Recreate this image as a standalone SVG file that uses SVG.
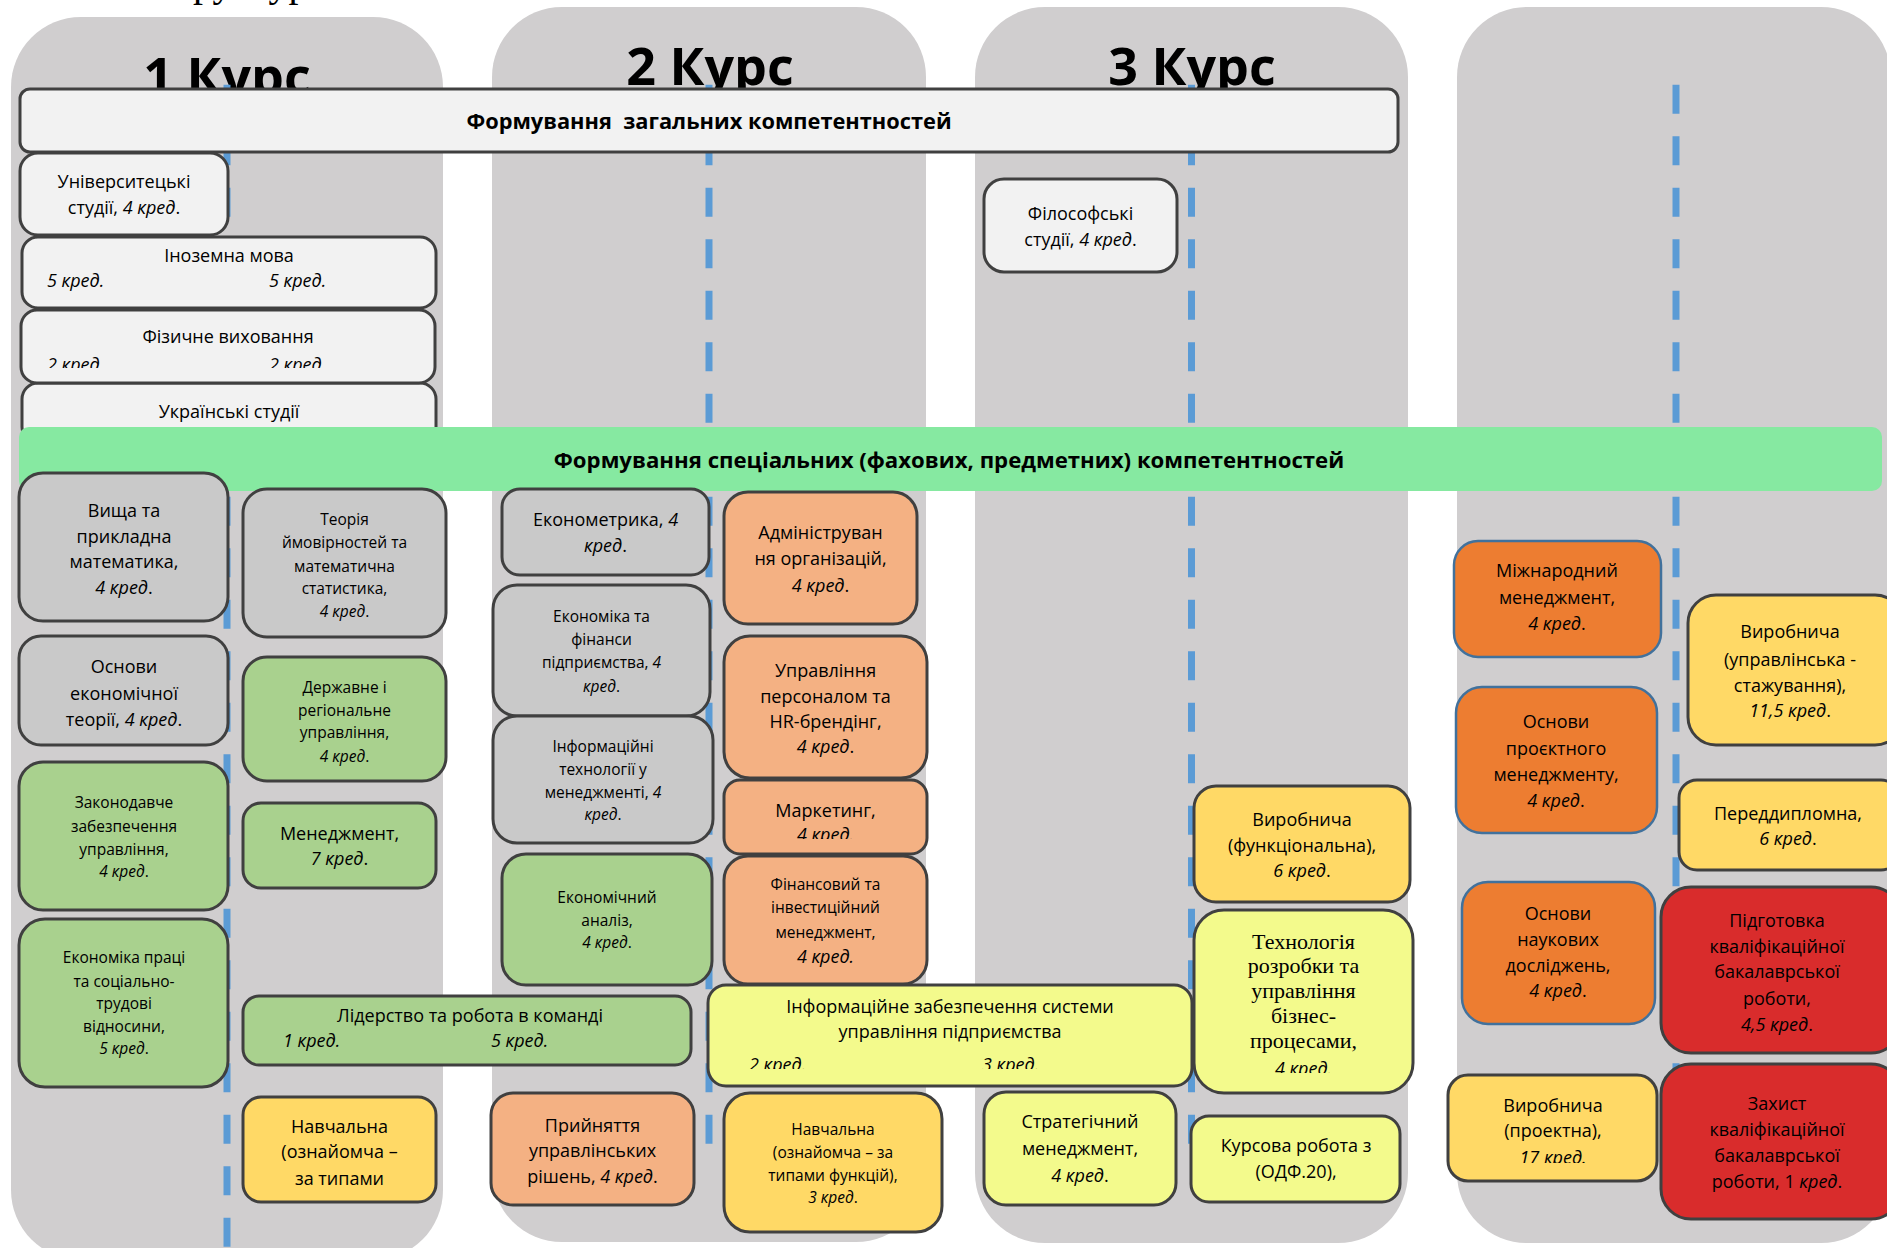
<svg xmlns="http://www.w3.org/2000/svg" width="1887" height="1248" viewBox="0 0 1887 1248">
<style>
.col{fill:#D0CECF}
.dash{stroke:#5B9BD5;stroke-width:7;stroke-dasharray:29 22.5;fill:none}
.n{stroke:#404040;stroke-width:3}
.light{fill:#F2F2F2}.gray{fill:#C9C9C9}.green{fill:#A9D18E}.salmon{fill:#F4B183}.gold{fill:#FFD966}.lemon{fill:#F3FA8C}.red{fill:#D92C2C}
.orange{fill:#ED7D31;stroke:#41719C;stroke-width:2.5}
text{font-family:"Open Sans","Noto Sans",sans-serif;fill:#000}
.t{text-anchor:middle}
.b{font-size:18px}.s{font-size:15.5px}
.i{font-style:italic}
.title{font-size:52px;font-weight:bold;text-anchor:middle}
.hd{font-size:21.8px;font-weight:bold;text-anchor:middle;white-space:pre}
.serif{font-family:"Liberation Serif","Times New Roman",serif;font-size:22px}
</style>
<defs>
<clipPath id="c3"><rect x="0" y="300" width="480" height="68"/></clipPath>
<clipPath id="c19"><rect x="700" y="770" width="240" height="69"/></clipPath>
<clipPath id="c22"><rect x="700" y="980" width="500" height="89"/></clipPath>
<clipPath id="c27"><rect x="1190" y="900" width="230" height="173"/></clipPath>
<clipPath id="c36"><rect x="1440" y="1070" width="230" height="93"/></clipPath>
</defs>

<text x="149" y="-4" style="font-family:'Liberation Serif','Times New Roman',serif;font-size:40px">Структурно-логічна схема</text>

<g id="columns">
<rect class="col" x="11" y="17" width="432" height="1243" rx="70"/>
<rect class="col" x="492" y="7" width="434" height="1235" rx="70"/>
<rect class="col" x="975" y="7" width="433" height="1236" rx="70"/>
<rect class="col" x="1457" y="7" width="434" height="1236" rx="70"/>
</g>
<g id="titles">
<text class="title" x="227" y="95">1 Курс</text>
<text class="title" x="710" y="85">2 Курс</text>
<text class="title" x="1192" y="85">3 Курс</text>
</g>
<g id="connectors">
<line class="dash" x1="227" y1="84.7" x2="227" y2="1248"/>
<line class="dash" x1="709" y1="84.7" x2="709" y2="1145"/>
<line class="dash" x1="1191.5" y1="84.7" x2="1191.5" y2="1145"/>
<line class="dash" x1="1676" y1="84.7" x2="1676" y2="1145"/>
</g>

<g id="general">
<rect class="n light" x="20" y="89" width="1378" height="63" rx="10"/>
<text class="hd" x="709" y="129">Формування  загальних компетентностей</text>
</g>

<g id="n4">
<rect class="n light" x="22" y="383" width="414" height="60" rx="16"/>
<text class="t b" x="229" y="418">Українські студії</text>
</g>

<g id="special">
<rect x="19" y="427" width="1863" height="64" rx="10" fill="#86E9A1"/>
<text class="hd" x="949" y="468" style="font-size:22.2px">Формування спеціальних (фахових, предметних) компетентностей</text>
</g>

<g id="n1">
<rect class="n light" x="20" y="153" width="208" height="82" rx="18"/>
<text class="t b"><tspan x="124" y="188">Університецькі</tspan><tspan x="124" y="214">студії, <tspan class="i">4 кред</tspan>.</tspan></text>
</g>
<g id="n2">
<rect class="n light" x="22" y="237" width="414" height="71" rx="16"/>
<text class="t b" x="229" y="262">Іноземна мова</text>
<text class="b i" x="47" y="287">5 кред.</text>
<text class="b i" x="269" y="287">5 кред.</text>
</g>
<g id="n3">
<rect class="n light" x="21" y="310" width="414" height="73" rx="16"/>
<text class="t b" x="228" y="343">Фізичне виховання</text>
<g clip-path="url(#c3)">
<text class="b i" x="47" y="371">2 кред.</text>
<text class="b i" x="269" y="371">2 кред.</text>
</g>
</g>

<g id="n5">
<rect class="n gray" x="19" y="473" width="209" height="148" rx="24"/>
<text class="t b"><tspan x="124" y="517">Вища та</tspan><tspan x="124" y="543">прикладна</tspan><tspan x="124" y="568">математика,</tspan><tspan x="124" y="594"><tspan class="i">4 кред</tspan>.</tspan></text>
</g>
<g id="n6">
<rect class="n gray" x="243" y="489" width="203" height="148" rx="24"/>
<text class="t s"><tspan x="344.5" y="525">Теорія</tspan><tspan x="344.5" y="548">ймовірностей та</tspan><tspan x="344.5" y="572">математична</tspan><tspan x="344.5" y="594">статистика,</tspan><tspan x="344.5" y="617"><tspan class="i">4 кред</tspan>.</tspan></text>
</g>
<g id="n7">
<rect class="n gray" x="19" y="636" width="209" height="109" rx="22"/>
<text class="t b"><tspan x="124" y="673">Основи</tspan><tspan x="124" y="700">економічної</tspan><tspan x="124" y="726">теорії, <tspan class="i">4 кред</tspan>.</tspan></text>
</g>
<g id="n8">
<rect class="n green" x="243" y="657" width="203" height="124" rx="24"/>
<text class="t s"><tspan x="344.5" y="693">Державне і</tspan><tspan x="344.5" y="716">регіональне</tspan><tspan x="344.5" y="738">управління,</tspan><tspan x="344.5" y="762"><tspan class="i">4 кред</tspan>.</tspan></text>
</g>
<g id="n9">
<rect class="n green" x="19" y="762" width="209" height="148" rx="24"/>
<text class="t s"><tspan x="124" y="808">Законодавче</tspan><tspan x="124" y="832">забезпечення</tspan><tspan x="124" y="855">управління,</tspan><tspan x="124" y="877"><tspan class="i">4 кред</tspan>.</tspan></text>
</g>
<g id="n10">
<rect class="n green" x="243" y="803" width="193" height="85" rx="18"/>
<text class="t b"><tspan x="339.5" y="840">Менеджмент,</tspan><tspan x="339.5" y="865"><tspan class="i">7 кред</tspan>.</tspan></text>
</g>
<g id="n11">
<rect class="n green" x="19" y="919" width="209" height="168" rx="26"/>
<text class="t s"><tspan x="124" y="963">Економіка праці</tspan><tspan x="124" y="987">та соціально-</tspan><tspan x="124" y="1009">трудові</tspan><tspan x="124" y="1032">відносини,</tspan><tspan x="124" y="1054"><tspan class="i">5 кред</tspan>.</tspan></text>
</g>
<g id="n12">
<rect class="n green" x="243" y="996" width="448" height="69" rx="16"/>
<text class="t b" x="470" y="1022">Лідерство та робота в команді</text>
<text class="b i" x="283" y="1047">1 кред.</text>
<text class="b i" x="491" y="1047">5 кред.</text>
</g>
<g id="n13">
<rect class="n gold" x="243" y="1097" width="193" height="105" rx="18"/>
<text class="t b"><tspan x="339.5" y="1133">Навчальна</tspan><tspan x="339.5" y="1158">(ознайомча –</tspan><tspan x="339.5" y="1185">за типами</tspan></text>
</g>

<g id="n14">
<rect class="n gray" x="502" y="489" width="207" height="86" rx="18"/>
<text class="t b"><tspan x="605.5" y="526">Економетрика, <tspan class="i">4</tspan></tspan><tspan x="605.5" y="552"><tspan class="i">кред</tspan>.</tspan></text>
</g>
<g id="n15">
<rect class="n salmon" x="724" y="492" width="193" height="132" rx="24"/>
<text class="t b"><tspan x="820.5" y="539">Адмініструван</tspan><tspan x="820.5" y="565">ня організацій,</tspan><tspan x="820.5" y="592"><tspan class="i">4 кред</tspan>.</tspan></text>
</g>
<g id="n16">
<rect class="n gray" x="493" y="585" width="217" height="131" rx="24"/>
<text class="t s"><tspan x="601.5" y="622">Економіка та</tspan><tspan x="601.5" y="645">фінанси</tspan><tspan x="601.5" y="668">підприємства, <tspan class="i">4</tspan></tspan><tspan x="601.5" y="692"><tspan class="i">кред</tspan>.</tspan></text>
</g>
<g id="n17">
<rect class="n gray" x="493" y="716" width="220" height="127" rx="24"/>
<text class="t s"><tspan x="603" y="752">Інформаційні</tspan><tspan x="603" y="775">технології у</tspan><tspan x="603" y="798">менеджменті, <tspan class="i">4</tspan></tspan><tspan x="603" y="820"><tspan class="i">кред</tspan>.</tspan></text>
</g>
<g id="n18">
<rect class="n salmon" x="724" y="636" width="203" height="142" rx="26"/>
<text class="t b"><tspan x="825.5" y="677">Управління</tspan><tspan x="825.5" y="703">персоналом та</tspan><tspan x="825.5" y="728">HR-брендінг,</tspan><tspan x="825.5" y="753"><tspan class="i">4 кред</tspan>.</tspan></text>
</g>
<g id="n19">
<rect class="n salmon" x="724" y="780" width="203" height="74" rx="16"/>
<text class="t b" x="825.5" y="817">Маркетинг,</text>
<text class="t b i" x="825.5" y="841" clip-path="url(#c19)">4 кред.</text>
</g>
<g id="n20">
<rect class="n green" x="502" y="854" width="210" height="131" rx="24"/>
<text class="t s"><tspan x="607" y="903">Економічний</tspan><tspan x="607" y="926">аналіз,</tspan><tspan x="607" y="948"><tspan class="i">4 кред</tspan>.</tspan></text>
</g>
<g id="n21">
<rect class="n salmon" x="724" y="856" width="203" height="128" rx="24"/>
<text class="t s"><tspan x="825.5" y="890">Фінансовий та</tspan><tspan x="825.5" y="913">інвестиційний</tspan><tspan x="825.5" y="938">менеджмент,</tspan></text>
<text class="t b i" x="825.5" y="963">4 кред.</text>
</g>
<g id="n22">
<rect class="n lemon" x="708" y="985" width="484" height="101" rx="18"/>
<text class="t b"><tspan x="950" y="1013">Інформаційне забезпечення системи</tspan><tspan x="950" y="1038">управління підприємства</tspan></text>
<g clip-path="url(#c22)">
<text class="b i" x="749" y="1071">2 кред.</text>
<text class="b i" x="982" y="1071">3 кред.</text>
</g>
</g>
<g id="n23">
<rect class="n salmon" x="491" y="1093" width="203" height="112" rx="22"/>
<text class="t b"><tspan x="592.5" y="1132">Прийняття</tspan><tspan x="592.5" y="1157">управлінських</tspan><tspan x="592.5" y="1183">рішень, <tspan class="i">4 кред</tspan>.</tspan></text>
</g>
<g id="n24">
<rect class="n gold" x="724" y="1093" width="218" height="139" rx="26"/>
<text class="t s"><tspan x="833" y="1135">Навчальна</tspan><tspan x="833" y="1158">(ознайомча – за</tspan><tspan x="833" y="1181">типами функцій),</tspan><tspan x="833" y="1203"><tspan class="i">3 кред</tspan>.</tspan></text>
</g>

<g id="n25">
<rect class="n light" x="984" y="179" width="193" height="93" rx="20"/>
<text class="t b"><tspan x="1080.5" y="220">Філософські</tspan><tspan x="1080.5" y="246">студії, <tspan class="i">4 кред</tspan>.</tspan></text>
</g>
<g id="n26">
<rect class="n gold" x="1194" y="786" width="216" height="116" rx="22"/>
<text class="t b"><tspan x="1302" y="826">Виробнича</tspan><tspan x="1302" y="852">(функціональна),</tspan><tspan x="1302" y="877"><tspan class="i">6 кред</tspan>.</tspan></text>
</g>
<g id="n27">
<rect class="n lemon" x="1194" y="910" width="219" height="183" rx="30"/>
<text class="t serif"><tspan x="1303.5" y="949">Технологія</tspan><tspan x="1303.5" y="973">розробки та</tspan><tspan x="1303.5" y="998">управління</tspan><tspan x="1303.5" y="1023">бізнес-</tspan><tspan x="1303.5" y="1048">процесами,</tspan></text>
<text class="t b i" x="1303.5" y="1075" clip-path="url(#c27)">4 кред.</text>
</g>
<g id="n28">
<rect class="n lemon" x="984" y="1092" width="192" height="113" rx="22"/>
<text class="t b"><tspan x="1080" y="1128">Стратегічний</tspan><tspan x="1080" y="1155">менеджмент,</tspan><tspan x="1080" y="1182"><tspan class="i">4 кред</tspan>.</tspan></text>
</g>
<g id="n29">
<rect class="n lemon" x="1191" y="1116" width="209" height="86" rx="18"/>
<text class="t b"><tspan x="1296" y="1152">Курсова робота з</tspan><tspan x="1296" y="1178">(ОДФ.20),</tspan></text>
</g>

<g id="n30">
<rect class="orange" x="1454" y="541" width="207" height="116" rx="24"/>
<text class="t b"><tspan x="1557" y="577">Міжнародний</tspan><tspan x="1557" y="604">менеджмент,</tspan><tspan x="1557" y="630"><tspan class="i">4 кред</tspan>.</tspan></text>
</g>
<g id="n31">
<rect class="orange" x="1456" y="687" width="201" height="146" rx="26"/>
<text class="t b"><tspan x="1556" y="728">Основи</tspan><tspan x="1556" y="755">проєктного</tspan><tspan x="1556" y="781">менеджменту,</tspan><tspan x="1556" y="807"><tspan class="i">4 кред</tspan>.</tspan></text>
</g>
<g id="n32">
<rect class="n gold" x="1688" y="595" width="215" height="150" rx="28"/>
<text class="t b"><tspan x="1790" y="638">Виробнича</tspan><tspan x="1790" y="666">(управлінська -</tspan><tspan x="1790" y="692">стажування),</tspan><tspan x="1790" y="717"><tspan class="i">11,5 кред</tspan>.</tspan></text>
</g>
<g id="n33">
<rect class="n gold" x="1679" y="780" width="220" height="90" rx="18"/>
<text class="t b"><tspan x="1788" y="820">Переддипломна,</tspan><tspan x="1788" y="845"><tspan class="i">6 кред</tspan>.</tspan></text>
</g>
<g id="n34">
<rect class="orange" x="1462" y="882" width="193" height="142" rx="26"/>
<text class="t b"><tspan x="1558" y="920">Основи</tspan><tspan x="1558" y="946">наукових</tspan><tspan x="1558" y="972">досліджень,</tspan><tspan x="1558" y="997"><tspan class="i">4 кред</tspan>.</tspan></text>
</g>
<g id="n35">
<rect class="n red" x="1661" y="887" width="240" height="166" rx="30"/>
<text class="t b"><tspan x="1777" y="927">Підготовка</tspan><tspan x="1777" y="953">кваліфікаційної</tspan><tspan x="1777" y="978">бакалаврської</tspan><tspan x="1777" y="1005">роботи,</tspan><tspan x="1777" y="1031"><tspan class="i">4,5 кред</tspan>.</tspan></text>
</g>
<g id="n36">
<rect class="n gold" x="1448" y="1075" width="209" height="106" rx="20"/>
<text class="t b"><tspan x="1553" y="1112">Виробнича</tspan><tspan x="1553" y="1137">(проектна),</tspan></text>
<text class="t b i" x="1553" y="1164" clip-path="url(#c36)">17 кред.</text>
</g>
<g id="n37">
<rect class="n red" x="1661" y="1064" width="240" height="155" rx="30"/>
<text class="t b"><tspan x="1777" y="1110">Захист</tspan><tspan x="1777" y="1136">кваліфікаційної</tspan><tspan x="1777" y="1162">бакалаврської</tspan><tspan x="1777" y="1188">роботи, 1 <tspan class="i">кред</tspan>.</tspan></text>
</g>
</svg>
